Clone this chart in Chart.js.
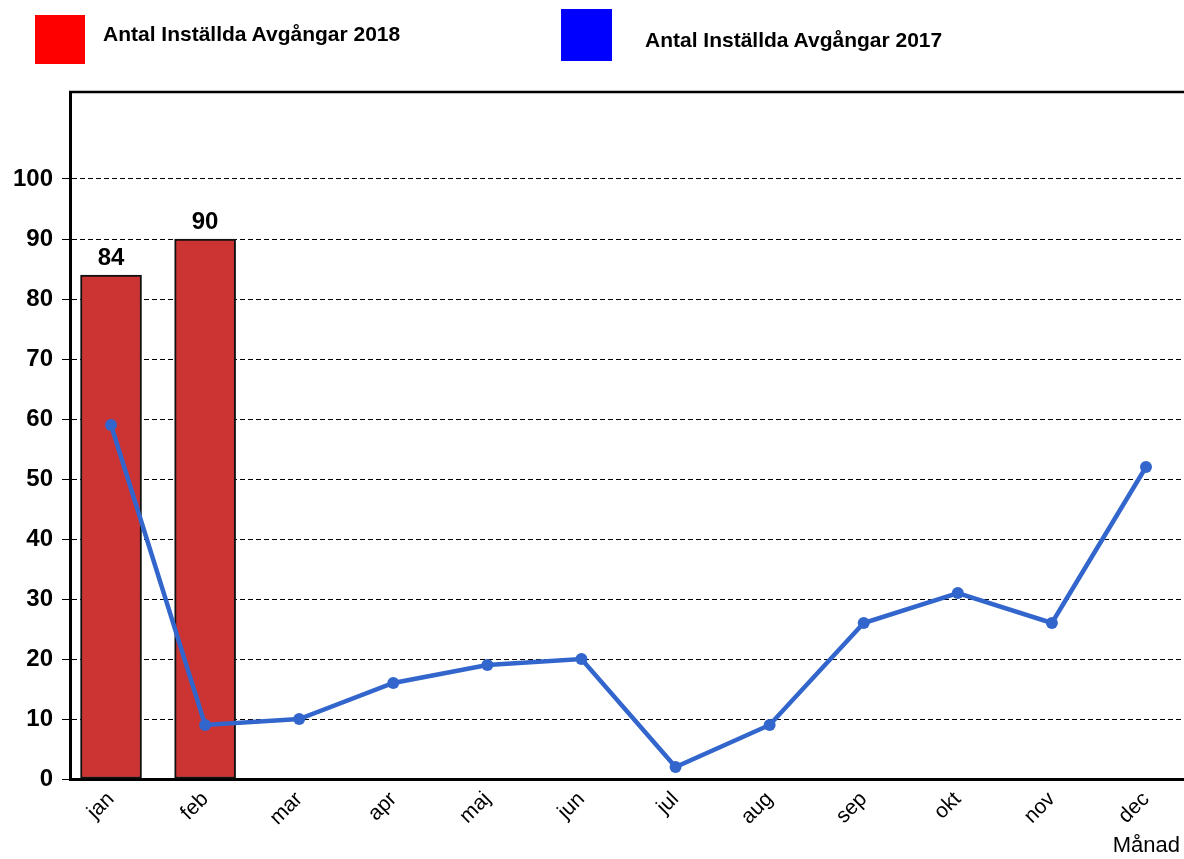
<!DOCTYPE html>
<html>
<head>
<meta charset="utf-8">
<script src="https://cdn.jsdelivr.net/npm/chart.js@4"></script>
<style>
  html, body { margin: 0; padding: 0; background: #fff; overflow: hidden; }
  #wrap { position: relative; width: 1184px; height: 859px; overflow: hidden; }
  #chart { position: absolute; left: 0; top: 0; }
  .key { position: absolute; }
  .lbl { position: absolute; font: bold 21px "Liberation Sans", Arial, sans-serif; color: #000; white-space: nowrap; }
  #xtitle { position: absolute; right: 4px; top: 832px; font: 22px "Liberation Sans", Arial, sans-serif; color: #000; }
</style>
</head>
<body>
<div id="wrap">
  <canvas id="chart" width="1190" height="859"></canvas>
  <div class="key" style="left:35px;top:15px;width:50px;height:49px;background:#ff0000"></div>
  <div class="lbl" style="left:103px;top:22px">Antal Inställda Avgångar 2018</div>
  <div class="key" style="left:561px;top:9px;width:51px;height:52px;background:#0000ff"></div>
  <div class="lbl" style="left:645px;top:28px">Antal Inställda Avgångar 2017</div>
  <div id="xtitle">Månad</div>
</div>
<script>
const months = ['jan', 'feb', 'mar', 'apr', 'maj', 'jun', 'jul', 'aug', 'sep', 'okt', 'nov', 'dec'];
const values2018 = [84, 90];
const values2017 = [59, 9, 10, 16, 19, 20, 2, 9, 26, 31, 26, 52];
const yTicks = [0, 10, 20, 30, 40, 50, 60, 70, 80, 90, 100];

const ctx = document.getElementById('chart').getContext('2d');

// value labels above the red bars
const barLabels = {
  id: 'barLabels',
  afterDatasetsDraw(chart) {
    const meta = chart.getDatasetMeta(1);
    const c = chart.ctx;
    c.save();
    c.font = 'bold 24px "Liberation Sans", Arial, sans-serif';
    c.fillStyle = '#000';
    c.textAlign = 'center';
    c.textBaseline = 'bottom';
    meta.data.forEach((bar, i) => {
      c.fillText(String(values2018[i]), bar.x, bar.y - 5);
    });
    c.restore();
  }
};

// top border of the plot
const topBorder = {
  id: 'topBorder',
  afterDraw(chart) {
    const a = chart.chartArea;
    const c = chart.ctx;
    c.save();
    c.strokeStyle = '#000';
    c.lineWidth = 2.5;
    c.beginPath();
    c.moveTo(a.left - 1, a.top);
    c.lineTo(a.right, a.top);
    c.stroke();
    c.restore();
  }
};

const myChart = new Chart(ctx, {
  type: 'bar',
  data: {
    datasets: [{
      type: 'line',
      label: 'Antal Inställda Avgångar 2017',
      data: values2017.map((v, i) => ({ x: i, y: v })),
      borderColor: '#3366cc',
      backgroundColor: '#3366cc',
      borderWidth: 4.5,
      pointRadius: 6,
      pointBorderWidth: 0,
      pointBackgroundColor: '#3366cc',
      tension: 0,
      order: 0
    }, {
      type: 'bar',
      label: 'Antal Inställda Avgångar 2018',
      data: values2018.map((v, i) => ({ x: i, y: v })),
      backgroundColor: '#cc3333',
      borderColor: '#111',
      borderWidth: 2,
      borderSkipped: false,
      barThickness: 61,
      order: 1
    }]
  },
  options: {
    responsive: false,
    animation: false,
    events: [],
    layout: { padding: { top: 92, left: 0, right: 0, bottom: 0 } },
    plugins: {
      legend: { display: false },
      tooltip: { enabled: false }
    },
    scales: {
      x: {
        type: 'linear',
        offset: false,
        min: -0.436,
        max: 11.404,
        afterBuildTicks: (scale) => { scale.ticks = months.map((m, i) => ({ value: i })); },
        afterFit: (scale) => { scale.height = 80; scale.paddingLeft = 0; scale.paddingRight = 0; },
        ticks: {
          autoSkip: false,
          maxRotation: 45,
          minRotation: 45,
          padding: 8,
          color: '#000',
          font: { family: '"Liberation Sans", Arial, sans-serif', size: 21 },
          callback: (v) => months[v]
        },
        grid: { display: false, drawTicks: false },
        border: { display: true, color: '#000', width: 3 }
      },
      y: {
        type: 'linear',
        min: 0,
        max: 114.5,
        afterBuildTicks: (scale) => { scale.ticks = yTicks.map(v => ({ value: v })); },
        afterFit: (scale) => { scale.width = 70; scale.paddingTop = 0; scale.paddingBottom = 0; },
        ticks: {
          color: '#000',
          padding: 9,
          font: { family: '"Liberation Sans", Arial, sans-serif', size: 24, weight: 'bold' }
        },
        grid: {
          color: '#000',
          lineWidth: 1,
          tickLength: 8,
          tickBorderDash: [],
          tickColor: '#000'
        },
        border: { display: true, color: '#000', width: 3, dash: [5, 3] }
      }
    }
  },
  plugins: [barLabels, topBorder]
});
</script>
</body>
</html>
